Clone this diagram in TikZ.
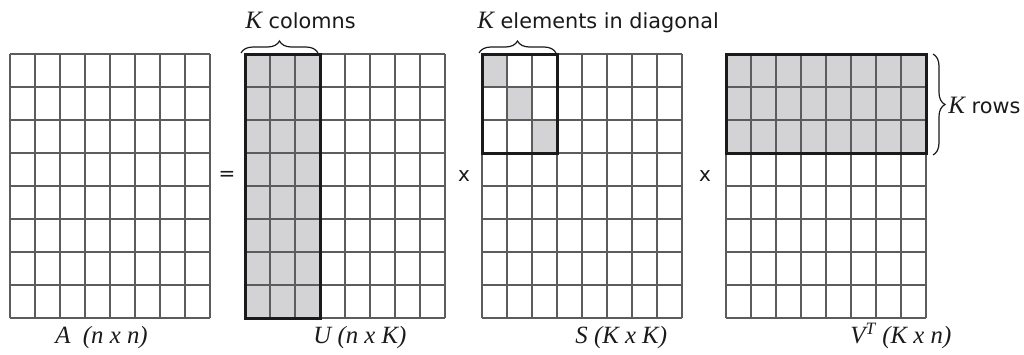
\documentclass[tikz,border=0pt]{standalone}
\usepackage{fontspec}
\setmainfont{Liberation Serif}
\setsansfont{DejaVu Sans}
\usepackage{tikz}
\usetikzlibrary{positioning,calc,decorations.pathreplacing}
\definecolor{Cell}{HTML}{D3D3D5}
\definecolor{Rule}{HTML}{5C5C5C}
\definecolor{Ink}{HTML}{1A1A1A}
\tikzset{
  every node/.append style={text=Ink},
  cell/.style={draw=Rule, line width=0.55pt},
  frame/.style={draw=Ink, line width=1.5pt},
  shaded/.style={fill=Cell},
  brace/.style={decorate, decoration={brace, amplitude=6pt}, line width=0.6pt, draw=Ink},
  toptag/.style={font=\sffamily\fontsize{10.4}{12}\selectfont, inner sep=0pt, anchor=base west},
  dim/.style={font=\itshape\fontsize{12.4}{14}\selectfont, inner sep=0pt, anchor=base west},
  op/.style={font=\sffamily\fontsize{10}{11}\selectfont, inner sep=0pt},
}
\newcommand\kk{{\rmfamily\itshape\fontsize{12.5}{13}\selectfont K}}

\begin{document}
\begin{tikzpicture}[x=0.5pt, y=-0.5pt]
  \useasboundingbox (0,0) rectangle (1024,354);
  \fill[white] (0,0) rectangle (1024,354);

  \fill[shaded] (245,54) rectangle (320,318);
  \fill[shaded] (482,54) rectangle (507,87);
  \fill[shaded] (507,87) rectangle (532,120);
  \fill[shaded] (532,120) rectangle (557,153);
  \fill[shaded] (726,54) rectangle (926,153);

  \foreach \gx in {10,245,482,726} {
    \foreach \i in {0,...,8} {
      \draw[cell] (\gx+\i*25,54) -- (\gx+\i*25,318);
      \draw[cell] (\gx,54+\i*33) -- (\gx+200,54+\i*33);
    }
  }

  \draw[frame] (245,54) rectangle (320,318);
  \draw[frame] (482,54) rectangle (557,153);
  \draw[frame] (726,54) rectangle (926,153);

  \coordinate (uL) at (241,53);
  \coordinate (uR) at (318,53);
  \coordinate (sL) at (479,53);
  \coordinate (sR) at (556,53);
  \coordinate (vT) at (933,54);
  \coordinate (vB) at (933,155);
  \draw[brace] (uL) -- (uR);
  \draw[brace] (sL) -- (sR);
  \draw[brace] (vT) -- (vB);

  \node[toptag] (kcol) at (245,28) {\kk\ colomns};
  \node[toptag] (kdiag) at (477,28) {\kk\ elements in diagonal};
  \node[toptag] (krows) at (948,113) {\kk\ rows};

  \node[op] (eq) at (227,176) {=};
  \node[op] (x1) at (464,176) {x};
  \node[op] (x2) at (705,176) {x};

  \node[dim] (la) at (55,343) {A\ \ (n x n)};
  \node[dim] (lu) at (313,343) {U (n x K)};
  \node[dim] (ls) at (575,343) {S (K x K)};
  \node[dim] (lv) at (850,343) {V\textsuperscript{T} (K x n)};
\end{tikzpicture}
\end{document}
